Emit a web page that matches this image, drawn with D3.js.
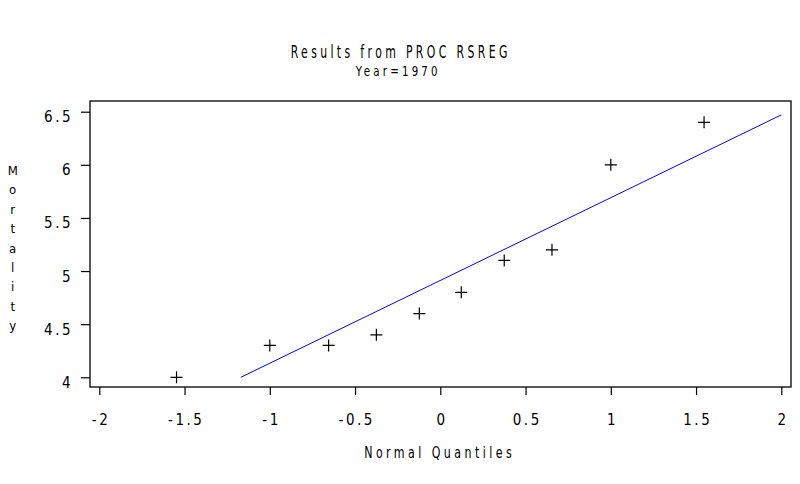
<!DOCTYPE html>
<html>
<head>
<meta charset="utf-8">
<script src="https://cdn.jsdelivr.net/npm/d3@7"></script>
<style>
  html, body { margin: 0; padding: 0; background: #fff; }
  svg { display: block; }
  text { font-family: "DejaVu Sans Condensed", "Liberation Sans Narrow", "Liberation Sans", sans-serif; fill: #000; }
</style>
</head>
<body>
<svg id="chart" width="800" height="484"></svg>
<script>
// ---- data ----
const titleLines = ["Results from PROC RSREG", "Year=1970"];
const xLabel = "Normal Quantiles";
const yLabel = "Mortality";
const quantiles = [-1.547, -1.0, -0.655, -0.375, -0.123, 0.123, 0.375, 0.655, 1.0, 1.547];
const mortality = [4.0, 4.3, 4.3, 4.4, 4.6, 4.8, 5.1, 5.2, 6.0, 6.4];
const fitX = [-1.17, 2.0];
const fitY = [4.0, 6.47];
const xTicks = [-2, -1.5, -1, -0.5, 0, 0.5, 1, 1.5, 2];
const yTicks = [4, 4.5, 5, 5.5, 6, 6.5];

// ---- layout ----
const svg = d3.select("#chart");
const frame = { left: 90, right: 791, top: 101, bottom: 387 };
const x = d3.scaleLinear().domain([-2, 2]).range([99.3, 781.3]);
const y = d3.scaleLinear().domain([4, 6.5]).range([377.3, 111.7]);
const fmt = d => String(d);

function squeezedText(sel, cx, cy, size, width, txt) {
  return sel.append("text").attr("x", cx).attr("y", cy).attr("text-anchor", "middle")
    .attr("font-size", size).attr("letter-spacing", size * 0.28)
    .attr("textLength", width).attr("lengthAdjust", "spacingAndGlyphs")
    .text(txt);
}

// titles
squeezedText(svg, 400.7, 57.5, 18, 220, titleLines[0]);
squeezedText(svg, 398.3, 75.5, 14, 85, titleLines[1]);

// frame
svg.append("rect")
  .attr("x", frame.left).attr("y", frame.top)
  .attr("width", frame.right - frame.left).attr("height", frame.bottom - frame.top)
  .attr("fill", "none").attr("stroke", "#000").attr("stroke-width", 1.3);

// y axis
const yAxis = svg.append("g").attr("transform", `translate(${frame.left},0)`)
  .call(d3.axisLeft(y).tickValues(yTicks).tickSize(9).tickFormat(fmt));
yAxis.select(".domain").remove();
yAxis.selectAll(".tick line").attr("stroke", "#000").attr("stroke-width", 1.2);
yAxis.selectAll(".tick text")
  .attr("x", -17).attr("dy", null).attr("y", 10)
  .attr("font-size", 15).attr("letter-spacing", 2.5)
  .style("font-family", '"DejaVu Sans Condensed", sans-serif')
  .attr("fill", "#000");

// x axis
const xAxis = svg.append("g").attr("transform", `translate(0,${frame.bottom})`)
  .call(d3.axisBottom(x).tickValues(xTicks).tickSize(8).tickFormat(fmt));
xAxis.select(".domain").remove();
xAxis.selectAll(".tick line").attr("stroke", "#000").attr("stroke-width", 1.2);
xAxis.selectAll(".tick text")
  .attr("dy", null).attr("y", 38).attr("dx", 1.2)
  .attr("font-size", 15).attr("letter-spacing", 2.5)
  .style("font-family", '"DejaVu Sans Condensed", sans-serif')
  .attr("fill", "#000");

// x label
squeezedText(svg, 439.7, 458.3, 15, 151, xLabel);

// y label: stacked letters
svg.append("g").selectAll("text").data(yLabel.split(""))
  .join("text")
  .attr("x", 12.7).attr("y", (d, i) => 175 + i * 19.4)
  .attr("text-anchor", "middle").attr("font-size", 13)
  .text(d => d);

// fit line
const line = d3.line().x(d => x(d[0])).y(d => y(d[1]));
svg.append("path").datum(d3.zip(fitX, fitY))
  .attr("d", line).attr("fill", "none").attr("stroke", "#0000ff").attr("stroke-width", 1);

// points (plus markers)
const pts = d3.zip(quantiles, mortality);
const g = svg.append("g").attr("stroke", "#000").attr("stroke-width", 1.2);
g.selectAll("path").data(pts).join("path")
  .attr("d", d => {
    const cx = x(d[0]), cy = y(d[1]), r = 6;
    return `M${cx - r},${cy}H${cx + r}M${cx},${cy - r}V${cy + r}`;
  });
</script>
</body>
</html>
